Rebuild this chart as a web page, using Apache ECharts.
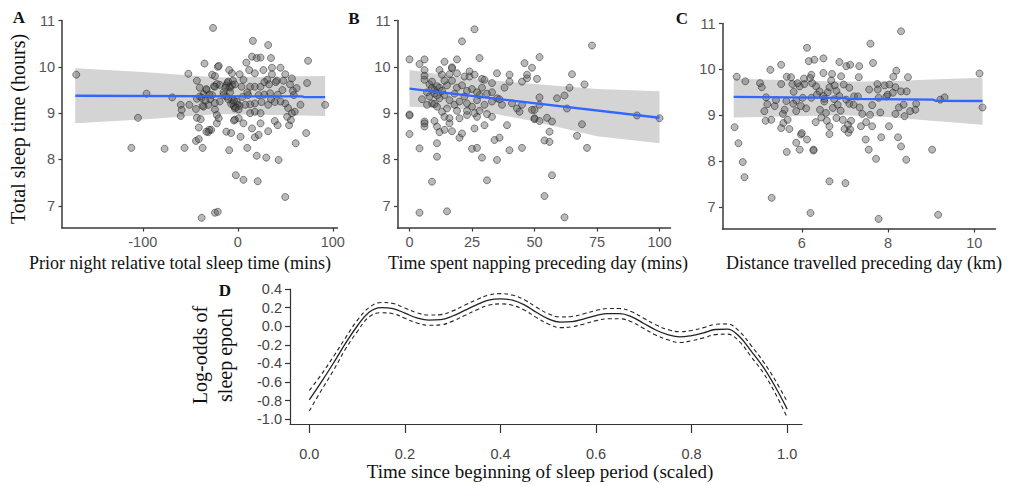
<!DOCTYPE html>
<html>
<head>
<meta charset="utf-8">
<script src="https://cdn.jsdelivr.net/npm/echarts@6/dist/echarts.min.js"></script>
<style>html,body{margin:0;padding:0;background:#fff}#chart{width:1020px;height:486px}</style>
</head>
<body>
<div id="chart"></div>
<script>
// ---------- Panel A: prior night relative TST (mins) vs TST (hours)
const pointsA = [[-170,9.83],[-96,9.42],[-105,8.90],[-112,8.25],[-77,8.23],[-69,9.34],[-56,8.25],[-52,9.85],[-60,9.18],[-59,9.07],[-60,8.94],[-51,9.18],[-43,9.70],[-35,10.07],[-26,10.84],[-27,9.83],[-21,10.0],[-43,9.31],[-33,9.50],[-25,9.58],[-22,9.63],[-27,9.39],[-36,9.41],[-44,9.09],[-36,9.14],[-31,9.18],[-24,9.08],[-43,8.90],[-39,8.87],[-41,8.69],[-22,8.78],[-31,8.59],[-28,8.64],[-44,8.40],[-41,8.44],[-37,8.25],[-38,6.74],[-24,6.85],[-21,6.87],[-40,9.36],[-38,9.33],[-30,9.40],[-40,9.55],[-24,9.80],
[16,10.56],[32,10.47],[-20,10.02],[9,10.09],[15,10.22],[20,10.19],[24,10.20],[35,10.19],[74,10.13],[-9,9.93],[-6,9.86],[2,9.84],[12,9.93],[18,9.86],[27,9.93],[36,9.98],[45,9.98],[36,9.84],[50,9.84],[57,9.75],[31,9.72],[41,9.70],[48,9.70],[73,9.65],[-11,9.65],[-9,9.57],[-6,9.61],[-12,9.60],[-10,9.68],[-8,9.55],[-5,9.70],[-3,9.62],[-13,9.55],[-19,9.61],[-24,9.57],[-33,9.52],[6,9.72],[4,9.57],[13,9.57],[18,9.57],[24,9.57],[22,9.39],[11,9.39],[34,9.43],[59,9.39],[62,9.54],[66,9.18],[92,9.18],[60,9.03],[57,9.00],[53,9.11],[50,9.21],[45,9.25],[39,9.24],[32,9.18],[25,9.24],[18,9.21],[13,9.19],[8,9.18],[2,9.16],
[-6,9.29],[-5,9.22],[-4,9.15],[-3,9.10],[-1,9.25],[0,9.18],[-7,9.20],[-2,9.12],[-4,9.27],[1,9.08],[-12,9.36],[-15,9.39],[-19,9.25],[-24,9.22],[-29,9.30],[-34,9.27],[-37,9.16],
[-22,8.96],[-20,8.89],[-30,8.64],[-33,8.60],[-12,8.60],[-7,8.57],[1,8.89],[6,8.78],[3,8.49],[10,8.25],[-9,8.20],[15,8.67],[18,8.48],[22,8.53],[24,8.78],[13,9.00],[18,9.03],[24,9.00],[32,8.61],[39,8.83],[42,8.74],[54,8.74],[56,8.85],[52,8.92],[61,8.35],[72,8.57],[20,8.08],[30,8.04],[43,7.99],[-2,7.66],[6,7.56],[21,7.53],[50,7.19],
[28,9.67],[33,9.62],[40,9.67],[-3,8.86],[-4,8.84],[-10,9.30],[-8,9.45],[-15,9.45],[5,9.35],[10,9.45],[28,9.40],[35,9.30],[42,9.40],[47,9.50],[55,9.62],[58,9.48]];
const ribbonAx = [-171, -100, -20, 40, 92];
const ribbonAlo = [8.78, 8.86, 8.98, 8.96, 8.94];
const ribbonAhi = [9.97, 9.89, 9.77, 9.79, 9.80];
const fitAx = [-171, 68, 70, 92];
const fitAy = [9.375, 9.36, 9.345, 9.345];

// ---------- Panel B: time napping (mins) vs TST
const pointsB = [[0,10.16],[0,8.97],[0,8.95],[0,8.55],[4,10.06],[6,10.16],[4,8.24],[4,6.85],[9,7.52],[11,8.06],[11,8.35],[15,6.88],[14,10.11],[17,9.99],[19,10.16],[21,10.55],[26,10.81],[28,10.19],[6,9.93],[6,9.81],[6,9.72],[8,9.62],[9,9.55],[10,9.50],[11,9.58],[12,9.93],[13,9.83],[16,9.84],[17,9.97],[19,9.86],[22,9.79],[24,9.90],[24,9.79],[26,9.83],[29,9.74],[30,9.72],[33,9.65],[35,9.86],[40,9.83],[40,9.68],[46,10.08],[49,9.98],[45,9.68],[47,9.75],
[8,9.36],[9,9.21],[11,9.14],[12,9.32],[14,9.39],[16,9.28],[18,9.18],[20,9.25],[22,9.36],[23,9.21],[25,9.14],[27,9.28],[28,9.39],[30,9.18],[33,9.25],[35,9.32],[37,9.18],[41,9.21],[43,9.10],[45,9.18],[44,9.03],[49,9.07],
[13,9.03],[14,8.92],[16,8.89],[6,8.82],[6,8.71],[6,8.78],[10,8.83],[11,8.71],[12,8.59],[14,8.64],[16,8.78],[17,8.61],[20,8.47],[21,8.56],[20,8.89],[23,8.96],[26,8.67],[27,8.92],[30,8.74],[33,8.92],[34,8.42],[39,8.74],[36,8.47],
[25,8.23],[27,8.25],[29,8.04],[31,7.55],[35,7.99],[40,8.20],[45,8.25],
[73,10.46],[52,10.21],[47,9.83],[51,9.74],[65,9.84],[70,9.62],[64,9.55],[62,9.38],[59,9.32],[52,9.34],[52,9.18],[50,9.07],[50,8.89],[50,8.87],[52,8.83],[55,8.90],[57,8.82],[63,9.10],[69,8.76],[56,8.60],[54,8.41],[56,8.38],[67,8.51],[71,8.25],[57,7.66],[54,7.21],[62,6.75],[91,8.95],[100,8.89],
[7,9.45],[9,9.68],[10,9.42],[11,9.38],[12,9.55],[13,9.48],[15,9.60],[18,9.42],[19,9.55],[21,9.60],[23,9.48],[25,9.52],[27,9.45],[29,9.55],[31,9.42],[33,9.45],[36,9.30],[38,9.55],[10,9.20],[5,9.30],[7,9.18],[15,9.10],[19,9.05],[23,9.05],[26,9.00],[28,9.05],[31,8.98],[17,9.70],[14,9.70]];
const ribbonBx = [0, 25, 50, 75, 100];
const ribbonBlo = [9.14, 9.08, 8.82, 8.50, 8.35];
const ribbonBhi = [9.93, 9.74, 9.63, 9.52, 9.47];
const fitBx = [0, 100];
const fitBy = [9.53, 8.90];

// ---------- Panel C: distance travelled (km) vs TST
const pointsC = [[4.44,8.74],[4.53,8.39],[4.63,7.98],[4.67,7.65],[4.49,9.84],[4.69,9.74],[5.03,9.70],[5.07,9.61],[5.27,9.99],[5.30,7.20],[5.17,9.39],[5.13,9.09],[5.16,8.88],[5.29,8.90],[5.20,9.24],[5.37,9.20],[5.52,10.10],[5.52,9.68],[5.65,9.84],[5.75,9.83],[5.78,9.68],[5.81,9.51],[5.64,9.31],[5.56,9.03],[5.52,8.72],[5.57,8.83],[5.67,8.90],[5.71,8.70],[5.87,8.40],[5.95,8.25],[5.98,8.58],[6.0,8.61],[5.65,8.20],[6.12,8.47],[6.27,8.25],[6.27,8.23],[5.87,9.09],[5.98,9.20],[6.02,9.38],[5.87,9.32],[5.95,9.63],[6.06,9.68],[6.12,10.47],[6.16,10.18],[6.29,10.21],[6.22,9.88],[6.19,9.81],[6.24,9.70],[6.33,9.63],[6.41,9.52],[6.22,9.38],[6.32,8.85],[6.50,10.24],[6.50,9.92],[6.52,9.30],[6.52,9.36],[6.50,9.42],[6.42,9.12],[6.56,9.05],[6.58,8.88],[6.64,8.76],[6.64,8.59],[6.68,9.76],[6.70,9.90],[6.64,9.61],[6.76,9.65],[6.80,9.53],[6.72,9.16],[6.83,9.23],[6.80,8.94],[6.87,10.16],[7.03,10.07],[6.91,9.85],[6.97,9.67],[6.87,9.42],[7.03,9.34],[7.10,9.25],[6.95,8.90],[6.99,8.70],[7.07,8.79],[6.64,7.56],[7.01,7.52],[6.20,6.87],
[5.9,9.7],[5.4,9.33],[5.6,9.12],[6.1,9.15],[6.35,9.45],[6.6,9.5],[6.45,8.95],[6.9,9.1],[5.8,9.25],[6.05,9.8],[7.08,8.62],[7.1,9.6],[6.75,9.35],
[8.30,10.83],[7.59,10.56],[7.12,10.10],[7.33,10.07],[7.65,10.14],[7.32,9.83],[8.19,9.97],[8.12,9.84],[8.46,9.83],[7.75,9.68],[7.92,9.65],[8.03,9.67],[8.17,9.61],[8.30,9.52],[8.43,9.52],[7.56,9.56],[7.76,9.56],[7.21,9.41],[7.30,9.41],[7.78,9.38],[7.96,9.41],[7.99,9.45],[8.11,9.49],[7.20,9.23],[7.34,9.17],[7.63,9.22],[8.25,9.17],[8.36,9.23],[8.65,9.25],[8.63,9.12],[8.51,9.09],[8.38,8.98],[8.17,9.03],[7.82,9.06],[7.58,9.01],[7.40,9.03],[7.14,8.88],[7.12,8.69],[7.49,8.85],[7.37,8.76],[7.63,8.76],[8.02,8.76],[7.48,8.47],[7.84,8.52],[8.23,8.52],[8.30,8.32],[7.55,8.25],[7.72,8.05],[8.42,8.03],[9.02,8.25],[9.21,9.34],[9.31,9.39],[10.12,9.91],[10.19,9.17],[7.78,6.74],[9.16,6.83]];
const ribbonCx = [4.42, 5.5, 7.0, 8.0, 9.0, 10.19];
const ribbonClo = [8.95, 8.97, 9.00, 8.96, 8.88, 8.79];
const ribbonChi = [9.80, 9.77, 9.73, 9.74, 9.78, 9.82];
const fitCx = [4.42, 7.0, 7.05, 9.05, 9.1, 10.19];
const fitCy = [9.40, 9.38, 9.355, 9.34, 9.315, 9.31];

// ---------- Panel D: smooth of log-odds of sleep epoch
const dX = [0,0.025,0.05,0.075,0.1,0.125,0.15,0.175,0.2,0.225,0.25,0.275,0.3,0.325,0.35,0.375,0.4,0.425,0.45,0.475,0.5,0.525,0.55,0.575,0.6,0.625,0.65,0.675,0.7,0.725,0.75,0.775,0.8,0.825,0.85,0.875,0.9,0.925,0.95,0.975,1.0];
const dFit = [-0.79,-0.60,-0.40,-0.19,0.00,0.15,0.20,0.19,0.14,0.09,0.065,0.07,0.11,0.17,0.23,0.28,0.295,0.28,0.23,0.15,0.08,0.045,0.05,0.08,0.115,0.135,0.135,0.10,0.03,-0.04,-0.09,-0.115,-0.10,-0.07,-0.035,-0.03,-0.11,-0.27,-0.44,-0.65,-0.89];
const dUpper = [-0.69,-0.52,-0.33,-0.13,0.06,0.20,0.255,0.245,0.195,0.145,0.12,0.125,0.165,0.225,0.285,0.335,0.35,0.335,0.285,0.205,0.135,0.10,0.105,0.135,0.17,0.19,0.19,0.155,0.085,0.015,-0.035,-0.06,-0.045,-0.015,0.02,0.025,-0.055,-0.21,-0.38,-0.58,-0.81];
const dLower = [-0.91,-0.69,-0.48,-0.25,-0.06,0.10,0.145,0.135,0.085,0.035,0.01,0.015,0.055,0.115,0.175,0.225,0.24,0.225,0.175,0.095,0.025,-0.015,-0.005,0.025,0.06,0.08,0.08,0.045,-0.025,-0.095,-0.145,-0.175,-0.155,-0.125,-0.09,-0.085,-0.165,-0.33,-0.50,-0.72,-0.98];

const yTicksABC = [7, 8, 9, 10, 11];
const xTicksA = [-100, 0, 100];
const xTicksB = [0, 25, 50, 75, 100];
const xTicksC = [6, 8, 10];
const yTicksD = [-1, -0.8, -0.6, -0.4, -0.2, 0, 0.2, 0.4];
const xTicksD = [0, 0.2, 0.4, 0.6, 0.8, 1.0];

// ---------- build option
const SANS = "'Liberation Sans', Arial, sans-serif";
const SERIF = "'Liberation Serif', 'Times New Roman', serif";
const axisCol = '#3a3a3a';
const tickLabCol = '#555';

function zip(xs, ys) { return xs.map((x, i) => [x, ys[i]]); }

function xAx(gi, min, max, ticks) {
  return {
    type: 'value', gridIndex: gi, min: min, max: max,
    axisLine: { show: true, onZero: false, lineStyle: { color: axisCol, width: 1.5 } },
    axisTick: { show: true, length: 3.5, customValues: ticks, lineStyle: { color: axisCol, width: 1.2 } },
    axisLabel: { show: true, customValues: ticks, margin: 6, color: tickLabCol, fontSize: 14.5, fontFamily: SANS },
    splitLine: { show: false }
  };
}
function yAx(gi, ticks) {
  return {
    type: 'value', gridIndex: gi, min: 6.52, max: 11,
    axisLine: { show: true, onZero: false, lineStyle: { color: axisCol, width: 1.5 } },
    axisTick: { show: true, length: 3.5, customValues: ticks, lineStyle: { color: axisCol, width: 1.2 } },
    axisLabel: { show: true, customValues: ticks, margin: 7, color: tickLabCol, fontSize: 14.5, fontFamily: SANS },
    splitLine: { show: false }
  };
}
function ribbon(idx, xs, lo, hi) {
  return {
    type: 'custom', xAxisIndex: idx, yAxisIndex: idx, silent: true, z: 1,
    data: [[xs[0], lo[0]]],
    renderItem: function (params, api) {
      const pts = [];
      for (let i = 0; i < xs.length; i++) pts.push(api.coord([xs[i], hi[i]]));
      for (let i = xs.length - 1; i >= 0; i--) pts.push(api.coord([xs[i], lo[i]]));
      return { type: 'polygon', shape: { points: pts }, style: { fill: '#d4d4d4' } };
    }
  };
}
function scatter(idx, pts) {
  return {
    type: 'scatter', xAxisIndex: idx, yAxisIndex: idx, z: 2, silent: true,
    symbolSize: 7, data: pts,
    itemStyle: { color: 'rgba(80,80,80,0.5)', borderColor: 'rgba(25,25,25,0.6)', borderWidth: 1 }
  };
}
function fit(idx, xs, ys) {
  return {
    type: 'line', xAxisIndex: idx, yAxisIndex: idx, z: 3, silent: true,
    showSymbol: false, data: zip(xs, ys),
    lineStyle: { color: '#3366ff', width: 2.3 }
  };
}
function dLine(data, dashed) {
  return {
    type: 'line', xAxisIndex: 3, yAxisIndex: 3, silent: true, smooth: 0.4,
    showSymbol: false, data: data,
    lineStyle: { color: '#222', width: dashed ? 1.1 : 1.3, type: dashed ? [4, 3] : 'solid' }
  };
}
function label(text, x, y, size, opts) {
  opts = opts || {};
  return {
    type: 'text', x: x, y: y, rotation: opts.rot || 0, silent: true,
    style: {
      text: text, fill: '#111', align: 'center', verticalAlign: 'middle',
      font: (opts.bold ? 'bold ' : '') + size + 'px ' + SERIF
    }
  };
}

const option = {
  backgroundColor: '#fff',
  animation: false,
  grid: [
    { left: 62, top: 20.5, width: 275.5, height: 207.5 },
    { left: 397.5, top: 20.5, width: 273, height: 207.5 },
    { left: 722.5, top: 23.5, width: 273, height: 205.5 },
    { left: 290, top: 289, width: 512, height: 135 }
  ],
  xAxis: [
    xAx(0, -185, 105, xTicksA),
    xAx(1, -4.8, 104.4, xTicksB),
    xAx(2, 4.16, 10.49, xTicksC),
    {
      type: 'value', gridIndex: 3, min: -0.0404, max: 1.031,
      axisLine: { show: true, onZero: false, lineStyle: { color: '#333', width: 1.2 } },
      axisTick: { show: true, length: 9, customValues: xTicksD, lineStyle: { color: '#333', width: 1.2 } },
      axisLabel: { show: true, customValues: xTicksD, margin: 22, color: '#444', fontSize: 14.5, fontFamily: SANS,
        formatter: v => Number(v).toFixed(1) },
      splitLine: { show: false }
    }
  ],
  yAxis: [
    yAx(0, yTicksABC),
    yAx(1, yTicksABC),
    yAx(2, yTicksABC),
    {
      type: 'value', gridIndex: 3, min: -1.05, max: 0.4,
      axisLine: { show: true, onZero: false, lineStyle: { color: '#333', width: 1.2 } },
      axisTick: { show: true, length: 5, customValues: yTicksD, lineStyle: { color: '#333', width: 1.2 } },
      axisLabel: { show: true, customValues: yTicksD, margin: 8, color: '#444', fontSize: 14.5, fontFamily: SANS,
        formatter: v => Number(v).toFixed(1) },
      splitLine: { show: false }
    }
  ],
  series: [
    ribbon(0, ribbonAx, ribbonAlo, ribbonAhi), scatter(0, pointsA), fit(0, fitAx, fitAy),
    ribbon(1, ribbonBx, ribbonBlo, ribbonBhi), scatter(1, pointsB), fit(1, fitBx, fitBy),
    ribbon(2, ribbonCx, ribbonClo, ribbonChi), scatter(2, pointsC), fit(2, fitCx, fitCy),
    dLine(zip(dX, dUpper), true), dLine(zip(dX, dFit), false), dLine(zip(dX, dLower), true)
  ],
  graphic: [
    label('A', 19, 17, 17, { bold: true }),
    label('B', 354, 18, 17, { bold: true }),
    label('C', 682, 18, 17, { bold: true }),
    label('D', 225, 290, 17, { bold: true }),
    label('Total sleep time (hours)', 18, 129, 20, { rot: Math.PI / 2 }),
    label('Prior night relative total sleep time (mins)', 180, 263, 18),
    label('Time spent napping preceding day (mins)', 538, 263, 18),
    label('Distance travelled preceding day (km)', 864, 263, 18),
    label('Time since beginning of sleep period (scaled)', 540, 471, 19),
    label('Log-odds of', 200, 355, 20, { rot: Math.PI / 2 }),
    label('sleep epoch', 225, 355, 20, { rot: Math.PI / 2 })
  ]
};

const chart = echarts.init(document.getElementById('chart'), null, { renderer: 'svg', width: 1020, height: 486 });
chart.setOption(option);
</script>
</body>
</html>
